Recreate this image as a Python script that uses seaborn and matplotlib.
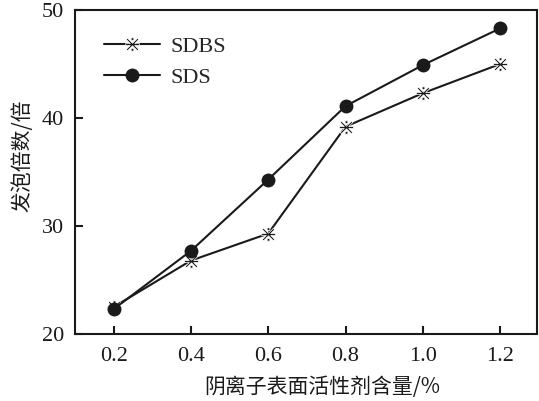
import pandas as pd
import matplotlib
matplotlib.use("Agg")
import matplotlib.pyplot as plt
import seaborn as sns

content = [0.2, 0.4, 0.6, 0.8, 1.0, 1.2]
sdbs = [22.5, 26.8, 29.3, 39.2, 42.3, 45.0]
sds = [22.3, 27.7, 34.3, 41.1, 44.9, 48.3]
x_ticks = ["0.2", "0.4", "0.6", "0.8", "1.0", "1.2"]
y_ticks = [20, 30, 40, 50]

df = pd.DataFrame({"x": content, "SDBS": sdbs, "SDS": sds})

sns.set_style("ticks")
plt.rcParams["font.family"] = ["Liberation Serif", "Noto Sans CJK SC"]
plt.rcParams["mathtext.fontset"] = "dejavusans"

fig = plt.figure(figsize=(5.39, 4.01), dpi=100)
ax = fig.add_axes([0.139, 0.167, 0.857, 0.808])

sns.lineplot(data=df, x="x", y="SDBS", ax=ax, color="#1a1a1a", lw=1.5,
             marker="$\\divideontimes$", markersize=10, markeredgewidth=0.5,
             label="SDBS")
sns.lineplot(data=df, x="x", y="SDS", ax=ax, color="#1a1a1a", lw=1.5,
             marker="o", markersize=10, markeredgewidth=0,
             label="SDS")

ax.set_xlim(0.1, 1.295)
ax.set_ylim(20, 50)
ax.set_xticks(content)
ax.set_xticklabels(x_ticks)
ax.set_yticks(y_ticks)
ax.tick_params(direction="in", length=6, width=1.5, labelsize=16, colors="#1a1a1a")
ax.tick_params(axis="x", pad=9)
ax.tick_params(axis="y", pad=8)
for s in ax.spines.values():
    s.set_linewidth(1.5)
    s.set_color("#1a1a1a")

ax.set_xlabel("阴离子表面活性剂含量/%", fontsize=15, family=["Noto Sans CJK SC"], color="#1a1a1a")
ax.set_ylabel("发泡倍数/倍", fontsize=15, family=["Noto Sans CJK SC"], color="#1a1a1a")
ax.xaxis.set_label_coords(0.535, -0.13)
ax.yaxis.set_label_coords(-0.09, 0.55)

leg = ax.legend(loc="upper left", bbox_to_anchor=(0.02, 0.98), frameon=False,
                fontsize=16, handlelength=2.5, labelspacing=0.45, handletextpad=0.5)

fig.savefig("out.png", dpi=100)
